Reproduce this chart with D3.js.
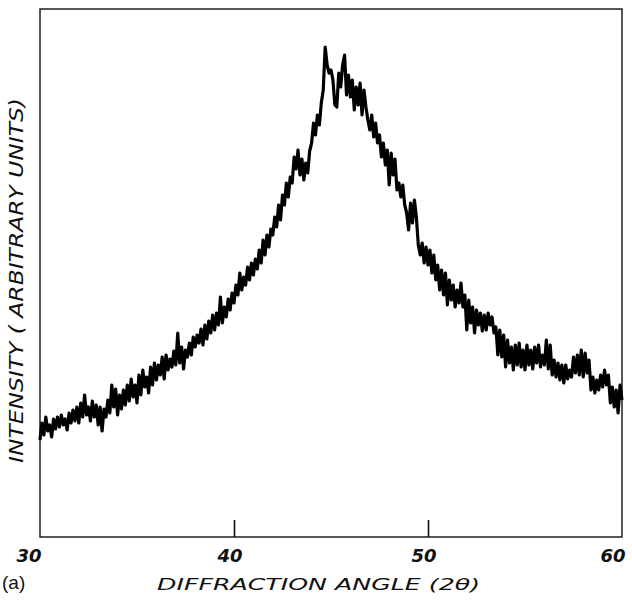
<!DOCTYPE html>
<html lang="en">
<head>
  <meta charset="UTF-8" />
  <title>Diffraction pattern (a)</title>
  <script src="https://d3js.org/d3.v7.min.js"></script>
  <style>
    body { margin: 0; background: #fff; }
    svg { display: block; }
    .lab { font-family: 'DejaVu Sans', sans-serif; font-style: italic; fill: #111; }
  </style>
</head>
<body>
<div id="chart"></div>
<script>
// diffraction angle range, one reading every 0.1 degree
const angleStart = 30;
const angleStep = 0.1;
const xTicks = [40, 50];
const xTickLabels = [30, 40, 50, 60];

// intensity, arbitrary units (rows = one degree)
const intensity = [
  95, 112, 100, 118, 104, 110, 98, 116, 106, 118,
  108, 120, 110, 116, 105, 122, 112, 125, 114, 128,
  112, 132, 118, 140, 120, 128, 114, 134, 118, 130,
  110, 128, 104, 126, 118, 135, 122, 150, 128, 146,
  120, 140, 126, 145, 130, 150, 134, 156, 138, 150,
  132, 160, 140, 165, 148, 158, 142, 168, 150, 172,
  155, 170, 160, 178, 156, 180, 165, 176, 168, 184,
  170, 202, 172, 188, 166, 185, 178, 192, 180, 198,
  188, 200, 192, 206, 190, 210, 196, 214, 202, 220,
  205, 222, 210, 238, 212, 228, 218, 236, 225, 242,
  232, 250, 240, 262, 245, 258, 250, 268, 255, 272,
  260, 276, 266, 285, 272, 295, 280, 300, 288, 306,
  300, 318, 308, 330, 315, 340, 330, 352, 338, 358,
  352, 378, 366, 385, 360, 376, 355, 372, 362, 384,
  392, 412, 400, 420, 410, 432, 445, 488, 470, 462,
  465, 455, 430, 428, 462, 448, 470, 480, 440, 460,
  438, 455, 425, 448, 430, 452, 420, 445, 428, 415,
  405, 420, 398, 412, 392, 400, 378, 392, 370, 385,
  350, 382, 360, 376, 345, 352, 338, 350, 330, 322,
  305, 332, 312, 335, 318, 290, 280, 292, 272, 288,
  270, 285, 262, 280, 255, 270, 245, 265, 240, 262,
  230, 255, 235, 250, 228, 245, 232, 252, 228, 240,
  205, 235, 212, 228, 202, 225, 210, 222, 204, 220,
  205, 222, 210, 218, 202, 208, 180, 205, 178, 200,
  168, 195, 172, 188, 165, 190, 170, 192, 168, 185,
  165, 190, 170, 185, 166, 188, 172, 190, 168, 180,
  170, 195, 166, 190, 160, 175, 158, 172, 155, 170,
  152, 170, 156, 165, 158, 178, 162, 180, 160, 185,
  158, 182, 162, 175, 145, 158, 142, 155, 145, 160,
  148, 165, 150, 160, 132, 148, 128, 145, 122, 150,
  135
];

const W = 632, H = 604;
const margin = { top: 9, right: 10, bottom: 67, left: 40 };

const svg = d3.select("#chart").append("svg")
  .attr("width", W)
  .attr("height", H);

const x = d3.scaleLinear().domain([30, 60]).range([margin.left, W - margin.right]);
const y = d3.scaleLinear().domain([-2, 526]).range([H - margin.bottom, margin.top]);

const data = intensity.map((v, i) => ({ a: angleStart + i * angleStep, v: v }));

// frame
svg.append("rect")
  .attr("x", x(30))
  .attr("y", y(526))
  .attr("width", x(60) - x(30))
  .attr("height", y(-2) - y(526))
  .attr("fill", "none")
  .attr("stroke", "#111")
  .attr("stroke-width", 1.4);

// inward ticks on the bottom axis
const xAxis = d3.axisBottom(x).tickValues(xTicks).tickSize(-17).tickFormat("");
svg.append("g")
  .attr("transform", `translate(0,${y(-2)})`)
  .call(xAxis)
  .call(g => g.select(".domain").remove())
  .call(g => g.selectAll(".tick line").attr("stroke", "#111").attr("stroke-width", 1.6));

svg.selectAll(".xlab")
  .data(xTickLabels)
  .enter()
  .append("text")
  .attr("class", "lab")
  .attr("x", d => x(d) + (d === 30 ? -11 : d === 60 ? -9 : -4))
  .attr("y", H - margin.bottom + 25)
  .attr("text-anchor", "middle")
  .style("font-size", "18px")
  .style("font-weight", "bold")
  .text(d => d);

// the trace
const line = d3.line()
  .x(d => x(d.a))
  .y(d => y(d.v));

svg.append("path")
  .datum(data)
  .attr("d", line)
  .attr("fill", "none")
  .attr("stroke", "#000")
  .attr("stroke-width", 3.2)
  .attr("stroke-linejoin", "round");

// titles
svg.append("text")
  .attr("class", "lab")
  .attr("x", 157)
  .attr("y", 590)
  .attr("textLength", 323)
  .attr("lengthAdjust", "spacingAndGlyphs")
  .style("font-size", "16px")
  .text("DIFFRACTION  ANGLE (2θ)");

svg.append("text")
  .attr("transform", "translate(23,463) rotate(-90)")
  .attr("class", "lab")
  .attr("textLength", 365)
  .attr("lengthAdjust", "spacingAndGlyphs")
  .style("font-size", "19px")
  .text("INTENSITY ( ARBITRARY UNITS)");

svg.append("text")
  .attr("x", 2)
  .attr("y", 589)
  .style("font-family", "'Liberation Sans', Arial, sans-serif")
  .style("font-size", "19px")
  .attr("fill", "#111")
  .text("(a)");
</script>
</body>
</html>
